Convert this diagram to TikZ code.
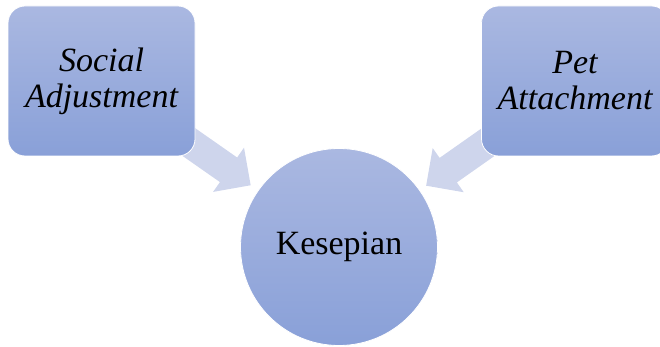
\documentclass[tikz,border=0pt]{standalone}
\usepackage{fontspec}
\setmainfont{Liberation Serif}
\usetikzlibrary{calc}
\definecolor{boxtop}{RGB}{170,184,225}
\definecolor{boxbot}{RGB}{137,160,216}
\definecolor{arrowfill}{RGB}{206,213,236}
\tikzset{
  boxnode/.style={rounded corners=17pt, minimum width=187pt, minimum height=150pt,
    top color=boxtop, bottom color=boxbot, draw=white, line width=0.8pt,
    align=center, inner sep=0pt, font=\fontsize{34}{36}\selectfont\itshape},
  circnode/.style={circle, minimum size=197pt, inner sep=0pt,
    top color=boxtop, bottom color=boxbot, draw=white, line width=0.8pt,
    font=\fontsize{34}{36}\selectfont},
  arrowshape/.style={fill=arrowfill, draw=none}
}
\newcommand\myblockarrow[2]{%
  \coordinate (ba) at ($(#1.center)!155pt!(#2.center)$);
  \coordinate (bt) at ($(#1.center)!182pt!(#2.center)$);
  \fill[arrowshape] ($(#1.center)!15pt!90:(#2.center)$) -- ($(ba)!15pt!90:(#2.center)$)
    -- ($(ba)!27pt!90:(#2.center)$) -- (bt) -- ($(ba)!27pt!-90:(#2.center)$)
    -- ($(ba)!15pt!-90:(#2.center)$) -- ($(#1.center)!15pt!-90:(#2.center)$) -- cycle;
}
\begin{document}
\begin{tikzpicture}[x=1pt,y=1pt]
\useasboundingbox (0,0) rectangle (660,347);
\clip (0,0) rectangle (660,347);
\coordinate (lc) at (101.5,266);
\coordinate (rc) at (575,266);
\coordinate (cc) at (339,100);
\myblockarrow{lc}{cc}
\myblockarrow{rc}{cc}
\node[boxnode] (social) at (lc) {Social\\Adjustment};
\node[boxnode] (pet) at (rc) {Pet\\Attachment};
\node[circnode] (kes) at (cc) {Kesepian};
\end{tikzpicture}
\end{document}
